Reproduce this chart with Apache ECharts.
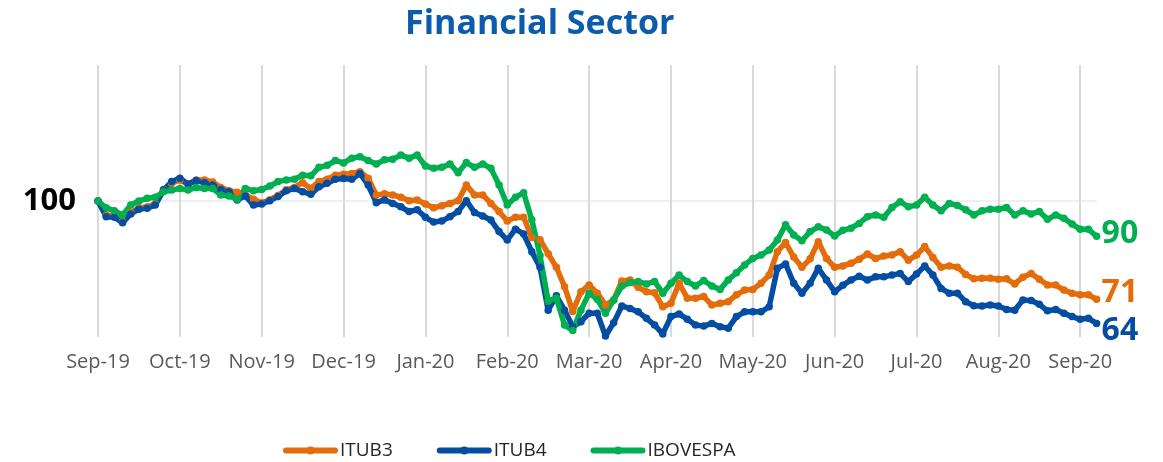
<!DOCTYPE html>
<html>
<head>
<meta charset="utf-8">
<script src="https://cdn.jsdelivr.net/npm/echarts@6/dist/echarts.min.js"></script>
<style>
html,body{margin:0;padding:0;background:#fff;}
#chart{width:1163px;height:462px;}
</style>
</head>
<body>
<div id="chart"></div>
<script>
// Month tick labels (one every 10 samples)
const monthLabels = ['Sep-19','Oct-19','Nov-19','Dec-19','Jan-20','Feb-20','Mar-20','Apr-20','May-20','Jun-20','Jul-20','Aug-20','Sep-20'];
const samplesPerMonth = 10;

const itub3 = [
  100, 95.8, 95.6, 94.0, 96.6, 98.0, 98.2, 99.2, 103.4, 105.2,
  106.2, 105.0, 106.2, 106.2, 105.6, 104.0, 103.0, 102.6, 101.8, 100.5,
  99.4, 100.4, 101.6, 103.3, 104.0, 105.4, 103.7, 105.7, 106.4, 107.6,
  107.9, 108.1, 108.6, 106.7, 101.8, 102.1, 101.8, 101.1, 100.1, 100.3,
  99.1, 98.0, 98.6, 99.3, 100.1, 104.7, 101.8, 101.8, 99.3, 96.9,
  94.1, 95.2, 95.2, 89.3, 88.6, 84.5, 80.5, 74.8, 67.5, 73.3,
  75.3, 72.9, 69.4, 70.9, 76.5, 76.8, 74.6, 73.3, 73.0, 68.9,
  69.9, 75.8, 71.4, 71.4, 71.9, 69.4, 69.9, 70.4, 72.4, 73.8,
  74.0, 75.8, 78.2, 85.1, 87.8, 83.5, 80.5, 83.0, 88.0, 83.1,
  80.5, 80.9, 81.7, 82.9, 84.4, 83.1, 83.8, 84.1, 85.1, 82.6,
  84.1, 86.6, 83.4, 80.5, 80.9, 80.5, 78.4, 77.1, 77.3, 77.3,
  77.0, 77.1, 75.6, 77.6, 78.7, 77.0, 75.3, 75.3, 73.8, 72.9,
  72.4, 72.4, 71.1
];
const itub4 = [
  100, 95.4, 95.2, 93.6, 96.2, 97.6, 97.9, 98.8, 103.2, 105.7,
  106.7, 105.0, 106.0, 105.4, 104.7, 103.4, 102.7, 100.3, 101.5, 98.8,
  99.1, 100.1, 101.3, 103.0, 103.7, 102.7, 102.0, 104.2, 105.2, 106.4,
  106.6, 106.4, 108.1, 104.7, 99.5, 100.3, 99.3, 98.3, 96.9, 97.4,
  95.2, 93.8, 94.1, 95.4, 96.9, 100.1, 96.6, 95.6, 94.4, 91.0,
  88.5, 91.7, 90.3, 85.1, 80.5, 67.9, 72.1, 67.9, 63.0, 64.5,
  67.0, 67.0, 60.3, 64.2, 69.1, 68.4, 67.4, 65.5, 63.5, 60.9,
  66.0, 66.8, 65.2, 63.5, 63.2, 64.0, 63.0, 62.6, 66.0, 67.4,
  67.4, 67.4, 68.9, 80.2, 81.5, 75.8, 72.9, 75.8, 80.2, 76.8,
  73.3, 75.2, 76.8, 77.9, 76.8, 77.7, 77.7, 78.2, 78.7, 76.3,
  78.5, 80.9, 78.2, 74.3, 72.9, 72.9, 70.4, 69.2, 69.1, 69.4,
  69.1, 68.1, 67.9, 70.9, 70.7, 69.6, 67.7, 68.1, 67.0, 66.0,
  65.2, 65.5, 64.0
];
const ibovespa = [
  100, 98.0, 97.1, 95.9, 98.8, 100, 100.8, 101.1, 102.7, 103.2,
  103.7, 103.2, 104.0, 103.7, 103.7, 101.8, 101.5, 100.5, 103.7, 103.0,
  103.4, 104.4, 105.7, 106.2, 106.4, 107.6, 107.4, 109.9, 110.5, 111.9,
  111.2, 112.6, 113.0, 111.9, 110.9, 112.1, 112.3, 113.5, 112.6, 113.5,
  110.3, 109.6, 109.9, 110.9, 108.3, 111.3, 109.9, 110.9, 109.6, 104.7,
  98.8, 101.1, 102.4, 94.5, 84.0, 70.5, 71.5, 63.5, 61.9, 67.9,
  72.9, 71.1, 67.0, 70.9, 75.0, 76.0, 76.3, 75.6, 76.3, 72.9,
  75.8, 78.2, 76.3, 75.0, 76.6, 75.0, 74.0, 76.8, 78.9, 81.2,
  83.1, 84.1, 85.6, 88.5, 93.0, 90.0, 88.3, 91.0, 92.4, 91.5,
  89.7, 91.4, 92.0, 93.4, 95.4, 95.9, 95.2, 98.1, 99.8, 98.3,
  98.8, 101.1, 98.8, 97.1, 99.3, 98.7, 97.4, 95.9, 97.1, 97.6,
  97.6, 98.1, 95.9, 97.1, 96.2, 96.9, 94.6, 95.9, 94.9, 93.2,
  91.7, 91.7, 89.6
];

const categories = itub3.map((_, i) => 'p' + i);

const COLORS = { itub3: '#E46C0A', itub4: '#034EA2', ibov: '#00B050' };
const FONT = '"Open Sans", "Noto Sans", sans-serif';

function mkSeries(name, data, color, labelOffsetY) {
  return {
    name: name,
    type: 'line',
    data: data,
    color: color,
    symbol: 'circle',
    symbolSize: 7.5,
    showAllSymbol: true,
    clip: false,
    lineStyle: { width: 5.5, color: color, cap: 'round', join: 'round' },
    itemStyle: { color: color },
    emphasis: { disabled: true },
    endLabel: {
      show: true,
      formatter: p => String(Math.round(p.value)),
      color: color,
      fontFamily: FONT,
      fontWeight: 'bold',
      fontSize: 32,
      distance: 5,
      offset: [0, labelOffsetY]
    }
  };
}

const chart = echarts.init(document.getElementById('chart'), null, { renderer: 'canvas' });
chart.setOption({
  animation: false,
  backgroundColor: '#ffffff',
  title: {
    text: 'Financial Sector',
    left: 400,
    top: 2,
    textStyle: { color: '#0B5CAD', fontFamily: FONT, fontWeight: 'bold', fontSize: 34 }
  },
  legend: {
    left: 278,
    top: 436,
    itemWidth: 49,
    itemHeight: 10,
    itemGap: 44,
    lineStyle: { width: 6, cap: 'round' },
    textStyle: { color: '#262626', fontFamily: FONT, fontSize: 19 },
    data: ['ITUB3', 'ITUB4', 'IBOVESPA']
  },
  grid: { left: 98, right: 66.4, top: 65, bottom: 125, containLabel: false },
  xAxis: {
    type: 'category',
    data: categories,
    boundaryGap: false,
    axisLine: { show: false },
    axisTick: { show: false, interval: samplesPerMonth - 1 },
    axisLabel: {
      interval: samplesPerMonth - 1,
      margin: 15,
      color: '#595959',
      fontFamily: FONT,
      fontSize: 20,
      formatter: (v, idx) => monthLabels[Math.round(idx / samplesPerMonth)] || ''
    },
    splitLine: { show: true, interval: samplesPerMonth - 1, lineStyle: { color: '#D9D9D9', width: 2 } }
  },
  yAxis: {
    type: 'value',
    min: 60,
    max: 140,
    interval: 40,
    axisLine: { show: false },
    axisTick: { show: false },
    axisLabel: {
      margin: 22,
      color: '#000000',
      fontFamily: FONT,
      fontWeight: 'bold',
      fontSize: 31,
      formatter: v => (v === 100 ? '100' : '')
    },
    splitLine: { show: true, showMinLine: false, showMaxLine: false, lineStyle: { color: '#EFEFEF', width: 2 } }
  },
  series: [
    mkSeries('ITUB3', itub3, COLORS.itub3, -6),
    mkSeries('ITUB4', itub4, COLORS.itub4, 7),
    mkSeries('IBOVESPA', ibovespa, COLORS.ibov, -2)
  ]
});
</script>
</body>
</html>
